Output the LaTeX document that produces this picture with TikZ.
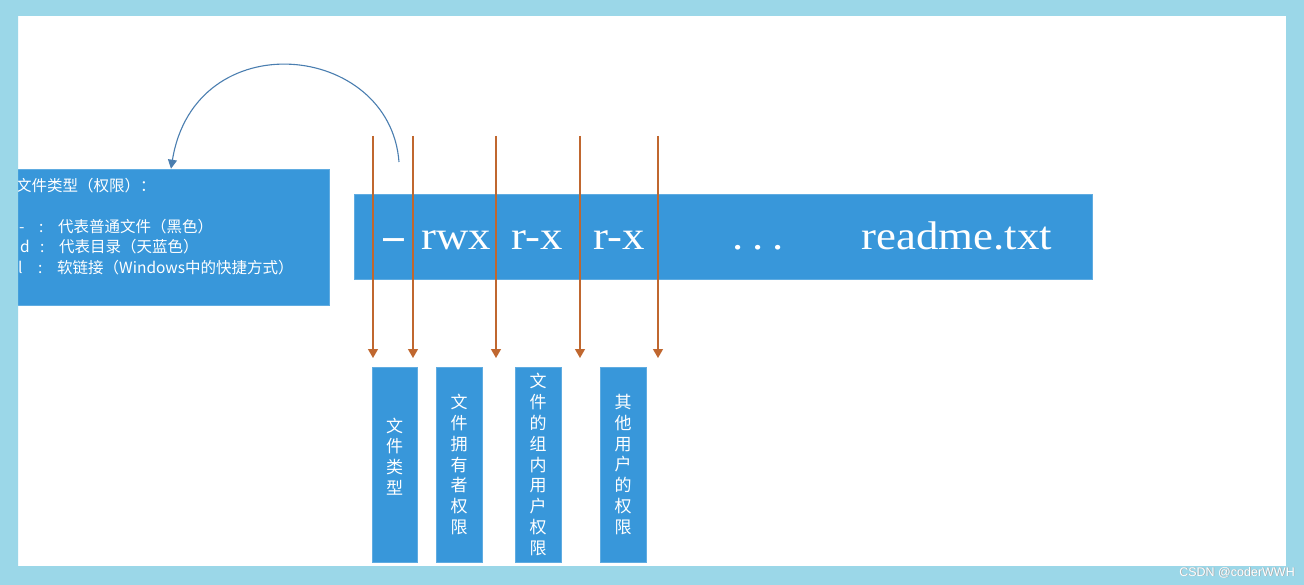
\documentclass[tikz,border=0pt]{standalone}
\usepackage{fontspec}
\setmainfont{Liberation Sans}
\newfontfamily\cjk{Noto Sans CJK SC}
\newfontfamily\barfont[FakeStretch=1.12]{Liberation Serif}
\usetikzlibrary{arrows.meta}
\definecolor{framec}{HTML}{9BD7E8}
\definecolor{boxc}{HTML}{3897DA}
\definecolor{arrc}{HTML}{C0672F}
\definecolor{curvec}{HTML}{4A7EB0}
\newcommand{\lcol}[2]{\makebox[20pt][l]{#1}\makebox[19pt][l]{:}#2}
\tikzset{
  bluebox/.style={fill=boxc, draw=boxc!80!white, line width=0.6pt, inner sep=0pt, rectangle},
  lefttext/.style={text=white, font=\cjk\fontsize{15.5}{20}\selectfont, anchor=base west, inner sep=0pt},
  bartext/.style={text=white, font=\barfont\fontsize{40}{46}\selectfont, anchor=base, inner sep=0pt},
  vtext/.style={text=white, font=\cjk\fontsize{17}{20.8}\selectfont, align=center, inner sep=0pt},
  downarr/.style={draw=arrc, line width=1.3pt, -{Triangle[width=10pt,length=9pt]}},
  curvearr/.style={draw=curvec, line width=1.1pt, -{Triangle[width=9pt,length=9pt]}}
}
\begin{document}
\begin{tikzpicture}[x=1pt,y=-1pt]
\useasboundingbox (0,0) rectangle (1304,585);
\fill[framec] (0,0) rectangle (1304,585);
\fill[white] (18,16) rectangle (1286,566);

% left box
\node[bluebox, minimum width=319pt, minimum height=136pt] (lbox) at (169.5,237) {};
\node[lefttext] (lt1) at (16,192) {文件类型（权限）：};
\node[lefttext] (lt2) at (19,233) {\lcol{-}{代表普通文件（黑色）}};
\node[lefttext] (lt3) at (20,253) {\lcol{d}{代表目录（天蓝色）}};
\node[lefttext] (lt4) at (18,274) {\lcol{l}{软链接（Windows中的快捷方式）}};

% main bar
\node[bluebox, minimum width=738pt, minimum height=85pt] (bar) at (723,236.5) {};
\node[bartext] (t1) at (394,250) {\scalebox{1.8}[1]{-}};
\node[bartext] (t2) at (456,250) {rwx};
\node[bartext] (t3) at (537,250) {r-x};
\node[bartext] (t4) at (619,250) {r-x};
\node[bartext] (t5) at (758,250) {.\hspace{9pt}.\hspace{9pt}.};
\node[bartext] (t6) at (957,250) {readme.txt};

% bottom boxes
\node[bluebox, minimum width=45pt, minimum height=195pt] (b1) at (394.5,464.5) {};
\node[bluebox, minimum width=46pt, minimum height=195pt] (b2) at (459,464.5) {};
\node[bluebox, minimum width=46pt, minimum height=195pt] (b3) at (538,464.5) {};
\node[bluebox, minimum width=46pt, minimum height=195pt] (b4) at (623,464.5) {};
\node[vtext] (v1) at ([yshift=8pt]b1.center) {文\\件\\类\\型};
\node[vtext] (v2) at (b2.center) {文\\件\\拥\\有\\者\\权\\限};
\node[vtext] (v3) at (b3.center) {文\\件\\的\\组\\内\\用\\户\\权\\限};
\node[vtext] (v4) at (b4.center) {其\\他\\用\\户\\的\\权\\限};

% down arrows
\foreach \i/\x in {1/373,2/413,3/496,4/580,5/658}{
  \coordinate (s\i) at (\x,136);
  \coordinate (e\i) at (\x,358);
  \draw[downarr] (s\i) -- (e\i);
}

% curved arrow
\coordinate (cs) at (399,162);
\coordinate (ce) at (lbox.north -| 171,0);
\draw[curvearr] (cs) .. controls (390,42) and (195,22) .. (ce);

% frame on top
\fill[framec, even odd rule] (0,0) rectangle (1304,585) (18,16) rectangle (1286,566);

% watermark
\node[anchor=base east, inner sep=0pt, font=\fontsize{12.5}{14}\selectfont, text=gray!70] (wm0) at (1295.7,576.7) {CSDN @coderWWH};
\node[anchor=base east, inner sep=0pt, font=\fontsize{12.5}{14}\selectfont, text=white] (wm) at (1295,576) {CSDN @coderWWH};
\end{tikzpicture}
\end{document}
